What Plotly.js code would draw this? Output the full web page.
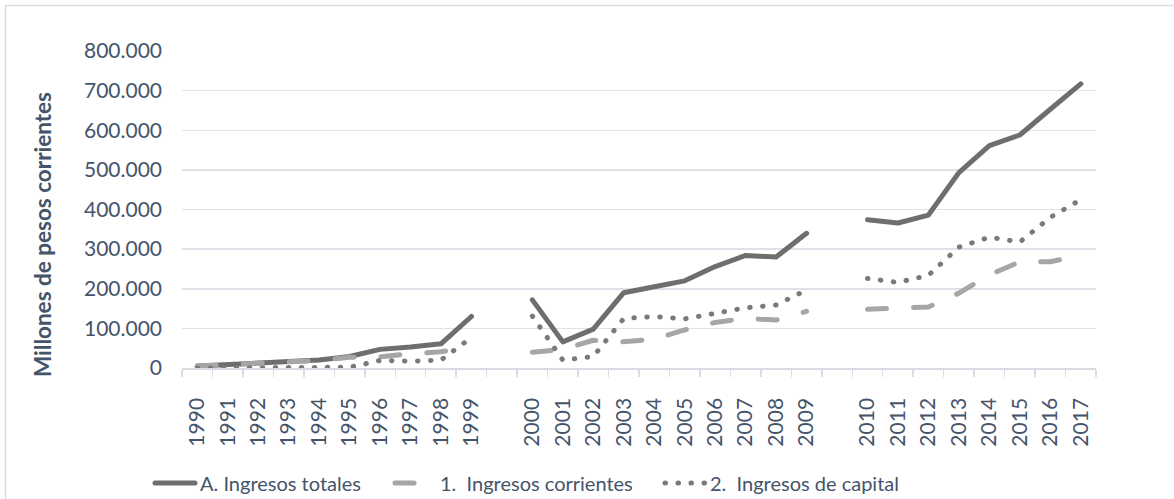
<!DOCTYPE html>
<html>
<head>
<meta charset="utf-8">
<script src="https://cdn.plot.ly/plotly-3.0.1.min.js"></script>
<style>
  html, body { margin: 0; padding: 0; background: #fff; }
  #chart { width: 1174px; height: 499px; }
  path.js-line { stroke-linecap: round; stroke-linejoin: round; }
</style>
</head>
<body>
<div id="chart"></div>
<script>
// Categories (blank entries are the visual gaps between decades)
var years = ["1990","1991","1992","1993","1994","1995","1996","1997","1998","1999",
             " ",
             "2000","2001","2002","2003","2004","2005","2006","2007","2008","2009",
             "  ",
             "2010","2011","2012","2013","2014","2015","2016","2017"];

// A. Ingresos totales (millones de pesos corrientes)
var totales = [5000, 8000, 12000, 16000, 20000, 29000, 47000, 53000, 61000, 130000,
               null,
               172000, 66000, 98000, 190000, 205000, 220000, 256000, 284000, 280000, 340000,
               null,
               374000, 366000, 386000, 493000, 561000, 588000, 653000, 717000];

// 1. Ingresos corrientes
var corrientes = [5000, 8000, 12000, 16000, 19000, 27000, 28000, 36000, 41000, 53000,
                  null,
                  40000, 47000, 70000, 66000, 73000, 96000, 115000, 125000, 121000, 143000,
                  null,
                  148000, 150000, 154000, 189000, 235000, 268000, 268000, 285000];

// 2. Ingresos de capital
var capital = [0, 0, 0, 0, 1000, 2000, 19000, 17000, 20000, 77000,
               null,
               131000, 20000, 29000, 125000, 130000, 124000, 138000, 152000, 159000, 197000,
               null,
               226000, 216000, 234000, 305000, 330000, 318000, 380000, 425000];

var yTicks = [0, 100000, 200000, 300000, 400000, 500000, 600000, 700000, 800000];
var yTickText = ["0","100.000","200.000","300.000","400.000","500.000","600.000","700.000","800.000"];

var seriesNames = ["A. Ingresos totales", "1.\u00a0 Ingresos corrientes", "2.\u00a0 Ingresos de capital"];
var yTitle = "Millones de pesos corrientes";

var FONT = "Lato, 'Open Sans', sans-serif";
var TXT = "#44546A";

// plot-area geometry helpers (pixels -> paper fractions)
var L = 182, R = 1096, T = 51, B = 368;
function px(x) { return (x - L) / (R - L); }
function py(y) { return (B - y) / (B - T); }

var traces = [
  {
    x: years, y: totales, name: seriesNames[0], type: "scatter", mode: "lines",
    connectgaps: false, legend: "legend",
    line: { color: "#6E6E6E", width: 5 }
  },
  {
    x: years, y: corrientes, name: seriesNames[1], type: "scatter", mode: "lines",
    connectgaps: false, legend: "legend2",
    line: { color: "#A6A6A6", width: 5, dash: "19px,27px" }
  },
  {
    x: years, y: capital, name: seriesNames[2], type: "scatter", mode: "lines",
    connectgaps: false, legend: "legend3",
    line: { color: "#7A7A7A", width: 5, dash: "0.5px,12.5px" }
  }
];

function legendAt(xpx) {
  return {
    orientation: "h",
    x: px(xpx), xanchor: "left",
    y: py(483), yanchor: "middle",
    font: { family: FONT, size: 20, color: TXT },
    itemwidth: 40,
    bgcolor: "rgba(0,0,0,0)"
  };
}

var layout = {
  width: 1174, height: 499,
  margin: { l: L, r: 1174 - R, t: T, b: 499 - B, autoexpand: false },
  paper_bgcolor: "#ffffff",
  plot_bgcolor: "#ffffff",
  font: { family: FONT, color: TXT, size: 20 },
  showlegend: true,
  legend: legendAt(150),
  legend2: legendAt(390),
  legend3: legendAt(660),
  xaxis: {
    type: "category",
    categoryorder: "array",
    categoryarray: years,
    range: [-0.5, years.length - 0.5],
    tickangle: -90,
    tickson: "boundaries",
    ticks: "outside",
    ticklen: 7,
    tickcolor: "#D9DDE3",
    tickwidth: 1.5,
    showgrid: false,
    showline: true,
    linecolor: "#D9DDE3",
    linewidth: 1.5,
    tickfont: { family: FONT, size: 21, color: TXT },
    ticklabelstandoff: 20,
    automargin: false,
    fixedrange: true
  },
  yaxis: {
    range: [0, 800000],
    tickmode: "array",
    tickvals: yTicks,
    ticktext: yTickText,
    showgrid: true,
    gridcolor: "#DEE2E8",
    gridwidth: 1.5,
    zeroline: false,
    showline: false,
    ticks: "",
    tickfont: { family: FONT, size: 21, color: TXT },
    ticklabelstandoff: 19,
    automargin: false,
    fixedrange: true
  },
  annotations: [
    {
      text: "<b>" + yTitle + "</b>",
      xref: "paper", yref: "paper",
      x: px(43), y: py(235),
      xanchor: "center", yanchor: "middle",
      textangle: -90,
      showarrow: false,
      font: { family: FONT, size: 22.5, color: TXT }
    }
  ],
  shapes: [
    {
      type: "rect", xref: "paper", yref: "paper",
      x0: px(5.5), x1: px(1200),
      y0: py(530), y1: py(5.5),
      line: { color: "#D9DDE3", width: 1.5 },
      fillcolor: "rgba(0,0,0,0)",
      layer: "below"
    }
  ]
};

Plotly.newPlot("chart", traces, layout, { displayModeBar: false, staticPlot: true });
</script>
</body>
</html>
